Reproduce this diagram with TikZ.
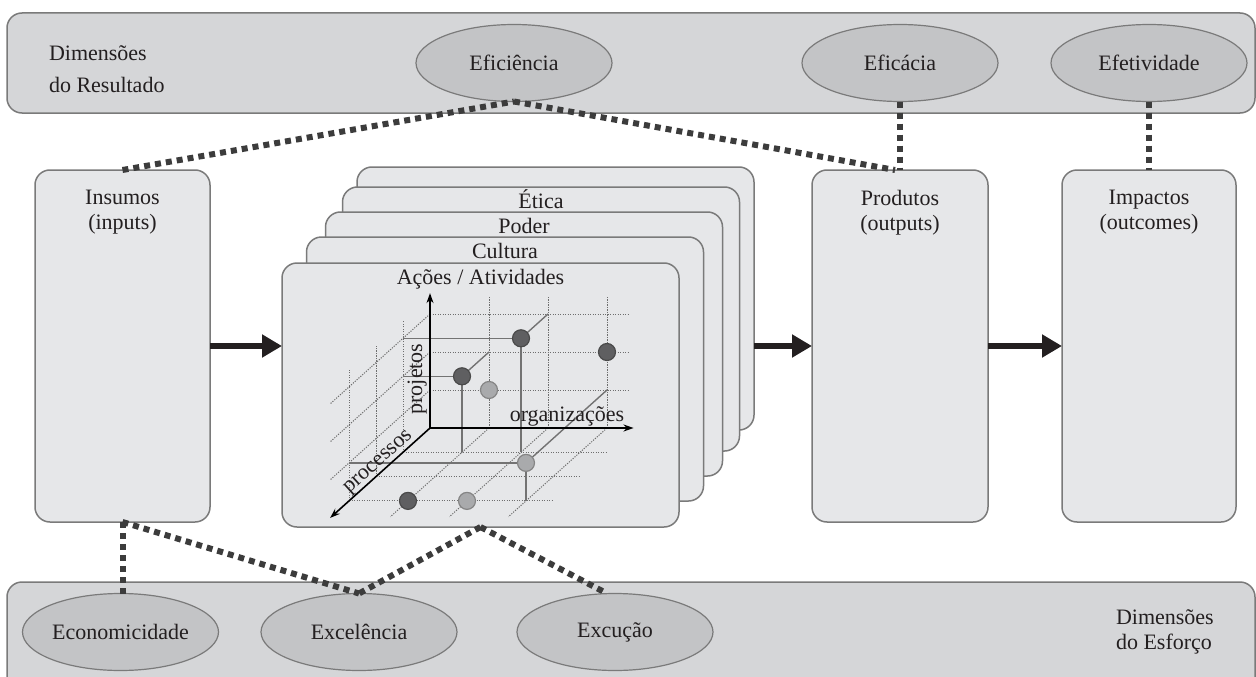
\documentclass[tikz,border=0pt]{standalone}
\usepackage{fontspec}
\setmainfont{Liberation Serif}
\usetikzlibrary{arrows.meta,shapes.geometric}
\definecolor{bandfill}{HTML}{D5D6D8}
\definecolor{boxfill}{HTML}{E6E7E9}
\definecolor{ellfill}{HTML}{C3C4C6}
\definecolor{edgegray}{HTML}{7A7A7A}
\definecolor{dotcol}{HTML}{3C3C3C}
\definecolor{gridcol}{HTML}{6E6E6E}
\definecolor{projcol}{HTML}{737373}
\definecolor{darkball}{HTML}{5F5F61}
\definecolor{darkballedge}{HTML}{4A4A4A}
\definecolor{lightball}{HTML}{A9AAAC}
\definecolor{lightballedge}{HTML}{858585}
\definecolor{arrowcol}{HTML}{231F20}
\definecolor{textcol}{HTML}{231F20}
\begin{document}
\begin{tikzpicture}[x=1pt,y=-1pt,
  every node/.style={font=\fontsize{22}{25}\selectfont, text=textcol, inner sep=0pt, outer sep=0pt},
  bandbox/.style={rectangle, draw=edgegray, fill=bandfill, line width=1.5pt, rounded corners=15pt},
  panel/.style={rectangle, draw=edgegray, fill=boxfill, line width=1.5pt, rounded corners=15pt},
  cardbox/.style={panel, minimum width=397pt, minimum height=264pt},
  colbox/.style={panel, minimum width=175pt, minimum height=352pt},
  dimell/.style={ellipse, draw=edgegray, fill=ellfill, line width=1.2pt, minimum width=196pt, minimum height=77pt},
  dotlink/.style={draw=dotcol, line width=6pt, dash pattern=on 6pt off 5pt},
  flow/.style={draw=arrowcol, line width=6pt, -{Triangle[length=20pt,width=22pt]}},
  gridline/.style={draw=gridcol, line width=1pt, dash pattern=on 1.2pt off 1.3pt},
  projline/.style={draw=projcol, line width=1.4pt},
  axisline/.style={draw=black, line width=1.6pt, -{Stealth[length=10pt,width=7pt]}},
  darkdot/.style={circle, minimum size=17pt, fill=darkball, draw=darkballedge, line width=1.2pt},
  lightdot/.style={circle, minimum size=17pt, fill=lightball, draw=lightballedge, line width=1.2pt}
]
\clip (0,0) rectangle (1256,677);
\fill[white] (0,0) rectangle (1256,677);

% bands
\node[bandbox, minimum width=1248pt, minimum height=100pt] (resband) at (631,63) {};
\node[bandbox, minimum width=1248pt, minimum height=130pt] (esfband) at (631,647) {};
\node[anchor=west, align=left, font=\fontsize{22}{32}\selectfont] (reslabel) at (49,69) {Dimensões\\do Resultado};
\node[anchor=west, align=left] (esflabel) at (1116,632) {Dimensões\\do Esforço};

% result ellipses
\node[dimell] (efic) at (514,63) {Eficiência};
\node[dimell] (efica) at (900,63) {Eficácia};
\node[dimell] (efet) at (1149,63) {Efetividade};

% effort ellipses
\node[dimell] (econ) at (120.5,632) {Economicidade};
\node[dimell] (excel) at (359,632) {Excelência};
\node[dimell] (exec) at (615,632) {Excução};

% columns
\node[colbox] (insumos) at (122.5,346) {};
\node[anchor=north, align=center] (insumosT) at ([yshift=-20pt]insumos.north) {Insumos\\(inputs)};
\node[colbox, minimum width=176pt] (prod) at (900,346) {};
\node[anchor=north, align=center] (prodT) at ([yshift=-20pt]prod.north) {Produtos\\(outputs)};
\node[colbox, minimum width=174pt] (imp) at (1149,346) {};
\node[anchor=north, align=center] (impT) at ([yshift=-20pt]imp.north) {Impactos\\(outcomes)};

% stacked cards
\node[cardbox, minimum height=263pt] (card5) at (555.5,298.5) {};
\node[cardbox] (card4) at (541,319) {};
\node[anchor=base] (eticaT) at ([yshift=-21pt]card4.north) {Ética};
\node[cardbox] (card3) at (524,344) {};
\node[anchor=base] (poderT) at ([yshift=-21pt]card3.north) {Poder};
\node[cardbox] (card2) at (505,369) {};
\node[anchor=base] (culturaT) at ([yshift=-21pt]card2.north) {Cultura};
\node[cardbox] (acoes) at (480.5,395) {};
\node[anchor=base] (acoesT) at ([yshift=-21pt]acoes.north) {Ações / Atividades};

% 3D chart
\begin{scope}[shift={(430,428)}, x={(59pt,0pt)}, y={(0pt,38pt)}, z={(-27pt,-24.3pt)}]
  \foreach \k in {1,2,3} {
    \draw[gridline] (0,\k,0) -- (3.35,\k,0);
    \draw[gridline] (\k,0,0) -- (\k,3.45,0);
    \draw[gridline] (0,\k,0) -- (0,\k,3.7);
    \draw[gridline] (0,0,\k) -- (0,3.45,\k);
    \draw[gridline] (0,0,\k) -- (3.45,0,\k);
    \draw[gridline] (\k,0,0) -- (\k,0,3.65);
  }
  \coordinate (dAb) at (2,3,0);
  \coordinate (dAl) at (0,3,1);
  \coordinate (dAf) at (2,0,1);
  \coordinate (dBb) at (1,2,0);
  \coordinate (dBl) at (0,2,1);
  \coordinate (dBf) at (1,0,1);
  \coordinate (dEb) at (3,1,0);
  \coordinate (dEl) at (0,1,3);
  \coordinate (dEf) at (3,0,3);
  \coordinate (orig) at (0,0,0);
  \coordinate (yend) at (0,3.55,0);
  \coordinate (xend) at (3.45,0,0);
  \coordinate (zend) at (0,0,3.7);
  \draw[projline] (2,3,1) -- (dAb);
  \draw[projline] (2,3,1) -- (dAl);
  \draw[projline] (2,3,1) -- (dAf);
  \draw[projline] (1,2,1) -- (dBb);
  \draw[projline] (1,2,1) -- (dBl);
  \draw[projline] (1,2,1) -- (dBf);
  \draw[projline] (3,1,3) -- (dEb);
  \draw[projline] (3,1,3) -- (dEl);
  \draw[projline] (3,1,3) -- (dEf);
  \draw[axisline] (orig) -- (yend);
  \draw[axisline] (orig) -- (xend);
  \draw[axisline] (orig) -- (zend);
  \node[darkdot] (dA) at (2,3,1) {};
  \node[darkdot] (dB) at (1,2,1) {};
  \node[darkdot] (dC) at (3,2,0) {};
  \node[lightdot] (dD) at (1,1,0) {};
  \node[lightdot] (dE) at (3,1,3) {};
  \node[darkdot] (dF) at (1,0,3) {};
  \node[lightdot] (dG) at (2,0,3) {};
\end{scope}
\node[anchor=base, rotate=90] (projT) at (422,379) {projetos};
\node[anchor=base] (orgT) at (567,421) {organizações};
\node[anchor=base, rotate=42] (procT) at (381,465) {processos};

% flow arrows
\draw[flow] (insumos.east) -- (insumos.east -| acoes.west);
\draw[flow] (prod.west -| card5.east) -- (prod.west);
\draw[flow] (prod.east) -- (imp.west);

% dotted links
\draw[dotlink] (insumos.north) -- (efic.south);
\draw[dotlink] (efic.south) -- ([xshift=-5pt]prod.north);
\draw[dotlink] (efica.south) -- (prod.north);
\draw[dotlink] (efet.south) -- (imp.north);
\draw[dotlink] (insumos.south) -- (insumos.south |- econ.north);
\draw[dotlink] (insumos.south) -- (excel.north);
\draw[dotlink] (acoes.south) -- (excel.north);
\draw[dotlink] (acoes.south) -- ([xshift=-8pt]exec.north);
\end{tikzpicture}
\end{document}
